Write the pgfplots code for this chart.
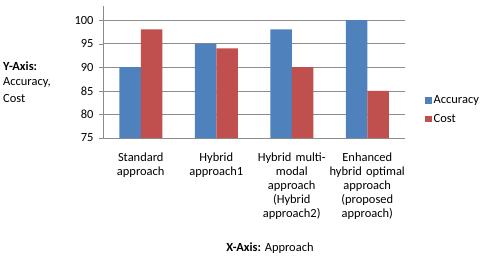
\documentclass[border=0pt]{standalone}
\usepackage{pgfplots}
\pgfplotsset{compat=1.18}
\usepackage{fontspec}
\setmainfont{Carlito}
\definecolor{accblue}{HTML}{4F81BD}
\definecolor{costred}{HTML}{C0504D}
\definecolor{gridgray}{HTML}{8C8C8C}
\begin{document}
\begin{tikzpicture}[x=1bp,y=1bp]
\path[use as bounding box] (0,0) rectangle (480,257);
\begin{axis}[
  at={(103bp,119bp)}, anchor=south west,
  scale only axis, width=302bp, height=132bp,
  ymin=75, ymax=102.97, xmin=-0.5, xmax=3.5,
  ybar=0pt, bar width=21.5bp,
  axis x line*=bottom, axis y line*=left,
  axis line style={gridgray, -},
  ytick={75,80,...,100},
  ymajorgrids, grid style={gridgray, line width=0.5pt},
  y tick label style={font=\fontsize{12.5}{14}\selectfont, xshift=-2bp},
  major y tick style={gridgray}, ytick align=outside, major tick length=4bp,
  xtick={0,1,2,3},
  xticklabels={{Standard\\approach},{Hybrid\\approach1},{Hybrid multi-\\modal\\approach\\(Hybrid\\approach2)},{Enhanced\\hybrid optimal\\approach\\(proposed\\approach)}},
  x tick label style={font=\fontsize{12.5}{14.2}\selectfont, align=center, text width=80bp, yshift=-7bp},
  major x tick style={draw=none},
  extra x ticks={-0.5,0.5,1.5,2.5,3.5},
  extra x tick labels={},
  extra x tick style={major tick length=4bp, tick align=outside, tick style={gridgray, draw=gridgray}, grid=none},
  /pgf/number format/assume math mode=true,
  legend style={at={(rel axis cs:1,0)}, anchor=south west, draw=none, fill=none,
    font=\fontsize{12.5}{14}\selectfont, row sep=5bp, xshift=20bp, yshift=12bp, cells={anchor=west},
    inner sep=0pt},
  legend image code/.code={\fill[#1] (0bp,-3bp) rectangle (6.5bp,3.5bp);},
]
\addplot[fill=accblue, draw=none] coordinates {(0,90) (1,95) (2,98) (3,100)};
\addplot[fill=costred, draw=none] coordinates {(0,98) (1,94) (2,90) (3,85)};
\legend{Accuracy, Cost}
\end{axis}
\node[anchor=west, inner sep=0pt, font=\fontsize{12.5}{14}\selectfont\bfseries] at (3,191) {Y-Axis:};
\node[anchor=west, inner sep=0pt, font=\fontsize{12.5}{14}\selectfont] at (3,174) {Accuracy,};
\node[anchor=west, inner sep=0pt, font=\fontsize{12.5}{14}\selectfont] at (3,158) {Cost};
\node[font=\fontsize{12.5}{14}\selectfont] at (270,9) {\textbf{X-Axis:} Approach};
\end{tikzpicture}
\end{document}
